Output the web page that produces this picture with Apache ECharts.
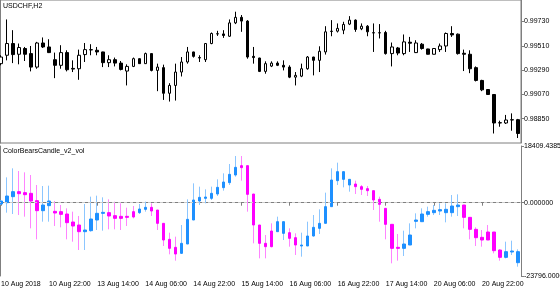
<!DOCTYPE html>
<html><head><meta charset="utf-8">
<script src="https://cdn.jsdelivr.net/npm/echarts@6/dist/echarts.min.js"></script>
<style>html,body{margin:0;padding:0;background:#fff}#c{width:560px;height:294px}</style>
</head><body><div id="c"></div>
<script>
// Price bars [open, close, low, high] (USDCHF H2)
const priceBars = [
[0.99348,0.99408,0.99333,0.99424],[0.99424,0.99530,0.99378,0.99748],[0.99530,0.99430,0.99353,0.99651],[0.99433,0.99494,0.99342,0.99530],
[0.99485,0.99433,0.99372,0.99499],[0.99439,0.99317,0.99278,0.99508],[0.99317,0.99535,0.99302,0.99545],[0.99535,0.99499,0.99490,0.99585],
[0.99499,0.99448,0.99444,0.99569],[0.99384,0.99333,0.99217,0.99448],[0.99333,0.99448,0.99302,0.99515],[0.99448,0.99293,0.99278,0.99469],
[0.99305,0.99299,0.99272,0.99378],[0.99302,0.99424,0.99202,0.99475],[0.99430,0.99475,0.99363,0.99535],[0.99472,0.99475,0.99424,0.99524],
[0.99469,0.99454,0.99424,0.99499],[0.99454,0.99357,0.99317,0.99456],[0.99357,0.99384,0.99317,0.99424],[0.99384,0.99353,0.99323,0.99403],
[0.99353,0.99296,0.99287,0.99372],[0.99281,0.99323,0.99151,0.99342],[0.99323,0.99393,0.99317,0.99403],[0.99393,0.99348,0.99346,0.99396],
[0.99348,0.99439,0.99346,0.99448],[0.99439,0.99287,0.99278,0.99441],[0.99287,0.99317,0.99099,0.99348],[0.99312,0.99080,0.99020,0.99339],
[0.99080,0.99151,0.99005,0.99171],[0.99151,0.99272,0.99014,0.99348],[0.99272,0.99363,0.99232,0.99408],[0.99363,0.99454,0.99348,0.99499],
[0.99454,0.99414,0.99403,0.99456],[0.99403,0.99399,0.99363,0.99424],[0.99384,0.99530,0.99363,0.99535],[0.99530,0.99621,0.99524,0.99630],
[0.99617,0.99619,0.99599,0.99645],[0.99617,0.99603,0.99581,0.99651],[0.99596,0.99717,0.99590,0.99748],[0.99717,0.99767,0.99706,0.99818],
[0.99767,0.99733,0.99636,0.99788],[0.99733,0.99408,0.99393,0.99742],[0.99414,0.99403,0.99348,0.99499],[0.99399,0.99278,0.99272,0.99401],
[0.99278,0.99348,0.99257,0.99369],[0.99326,0.99353,0.99317,0.99369],[0.99353,0.99333,0.99326,0.99369],[0.99333,0.99317,0.99287,0.99378],
[0.99317,0.99226,0.99217,0.99333],[0.99226,0.99242,0.99151,0.99272],[0.99235,0.99302,0.99226,0.99348],[0.99302,0.99408,0.99293,0.99417],
[0.99408,0.99378,0.99242,0.99410],[0.99378,0.99460,0.99272,0.99505],[0.99454,0.99636,0.99430,0.99687],[0.99639,0.99642,0.99596,0.99742],
[0.99642,0.99667,0.99630,0.99712],[0.99651,0.99703,0.99615,0.99727],[0.99706,0.99742,0.99697,0.99778],[0.99742,0.99657,0.99636,0.99748],
[0.99663,0.99687,0.99651,0.99712],[0.99687,0.99636,0.99596,0.99697],[0.99628,0.99626,0.99454,0.99712],[0.99626,0.99628,0.99576,0.99706],
[0.99630,0.99439,0.99430,0.99645],[0.99439,0.99499,0.99323,0.99539],[0.99490,0.99444,0.99424,0.99499],[0.99439,0.99545,0.99424,0.99612],
[0.99542,0.99533,0.99454,0.99590],[0.99448,0.99535,0.99444,0.99560],[0.99524,0.99485,0.99475,0.99535],[0.99481,0.99433,0.99431,0.99483],
[0.99433,0.99485,0.99431,0.99487],[0.99475,0.99508,0.99454,0.99530],[0.99508,0.99621,0.99454,0.99630],[0.99621,0.99608,0.99590,0.99687],
[0.99615,0.99439,0.99430,0.99621],[0.99442,0.99433,0.99281,0.99475],[0.99433,0.99302,0.99262,0.99469],[0.99312,0.99196,0.99187,0.99323],
[0.99196,0.99111,0.99099,0.99202],[0.99114,0.99069,0.99067,0.99116],[0.99069,0.98811,0.98716,0.99071],[0.98811,0.98814,0.98777,0.98832],
[0.98811,0.98838,0.98802,0.98884],[0.98838,0.98841,0.98741,0.98898],[0.98841,0.98716,0.98675,0.98848]
];
// Indicator bars [open, close, low, high] (ColorBearsCandle_v2_vol)
const indBars = [
[-422,552,-747,877],[11,2175,-3236,8236],[1959,3582,-3669,11158],[3582,2933,-3994,10293],[3258,2608,-4535,9860],
[3041,552,-8323,8994],[660,-2587,-11894,5747],[-2587,-747,-6158,5422],[-963,552,-6158,5531],[-2803,-3344,-7565,552],
[-2911,-3777,-7998,-747],[-3669,-6483,-11894,-1829],[-6267,-7565,-12652,-2911],[-7241,-9405,-15358,-4318],[-9405,-8864,-15358,-422],
[-9080,-5292,-9405,1959],[-5617,-3453,-8864,2284],[-3453,-3128,-9080,1743],[-3236,-4318,-8648,1093],[-4210,-5076,-8648,336],
[-4427,-5076,-8864,-206],[-4427,-4751,-7565,-1613],[-2911,-4643,-5076,-1071],[-3236,-2046,-3669,-422],[-2154,-1504,-2911,336],
[-1504,-2695,-4318,-206],[-2370,-6699,-8864,-2370],[-6699,-12111,-14059,-6699],[-11894,-14817,-16765,-9730],[-14492,-16657,-18821,-11029],
[-16440,-13193,-16657,-7241],[-13410,-5401,-13410,1093],[-5617,877,-5617,6288],[552,1743,-747,5206],[1418,1851,-206,4340],
[1418,3041,877,5206],[2825,4989,2175,7587],[4881,6721,3907,9535],[6505,9210,5747,12565],[8994,11483,8453,15163],
[12024,11375,7154,15163],[12024,2717,-2911,12024],[2825,-7241,-13193,2825],[-7241,-13193,-18064,-7241],[-13193,-14276,-18064,-10488],
[-9189,-14276,-14492,-6699],[-9405,-6158,-9405,-4535],[-9946,-6158,-12111,-6158],[-9730,-11570,-14276,-8323],[-11353,-13734,-16981,-9946],
[-14059,-13734,-17522,-9730],[-14059,-10812,-14059,-6158],[-10812,-7998,-11029,-3994],[-8323,-6699,-10163,-2154],[-6699,-1288,-6699,3258],
[-1288,7370,-1288,11158],[7154,10076,5747,12998],[7587,10076,4989,10076],[5747,7587,3582,7587],[6072,5206,2825,7154],
[5206,4340,2500,5747],[4557,3907,2175,5422],[3907,877,-2370,3907],[1093,-530,-6158,1959],[-1829,-7024,-11894,-1829],
[-7024,-14817,-19687,-7024],[-14492,-14817,-18821,-10163],[-14817,-13410,-17306,-9080],[-13734,-10488,-13734,-6699],[-6050,-5617,-8323,-3453],
[-6158,-3669,-6158,-1829],[-3777,-2911,-4535,-1288],[-3236,-2478,-3994,-747],[-2695,-2262,-3994,-206],[-3236,-2154,-6375,-206],
[-3236,-1071,-4535,2500],[-1288,-747,-4318,2717],[-747,-4751,-8323,-747],[-4751,-8648,-11894,-4751],[-8648,-11353,-14059,-7998],
[-11245,-12111,-14276,-8864],[-9513,-12111,-12111,-7241],[-9513,-15574,-16440,-9513],[-15358,-17739,-18821,-15141],[-17739,-15899,-18064,-12652],
[-16007,-15683,-16981,-12327],[-19471,-15899,-20769,-15141]
];
const timeTickLabels = ['10 Aug 2018','10 Aug 22:00','13 Aug 14:00','14 Aug 06:00','14 Aug 22:00','15 Aug 14:00','16 Aug 06:00','16 Aug 22:00','17 Aug 14:00','20 Aug 06:00','20 Aug 22:00'];
const priceAxisMin = 0.98630, priceAxisMax = 0.99924, priceTickStep = 0.0022;
const indTickValues = [-23796, 0, 18409.4385];
const indTickLabels = ['-23796.0000', '0.000000', '18409.4385'];
const titleMain = 'USDCHF,H2';
const titleSub = 'ColorBearsCandle_v2_vol';

// H2 bar times, trading days only
const months = ['Jan','Feb','Mar','Apr','May','Jun','Jul','Aug','Sep','Oct','Nov','Dec'];
const categories = [];
let t = Date.UTC(2018, 7, 10, 6);
while (categories.length < priceBars.length) {
  const d = new Date(t);
  const wd = d.getUTCDay();
  if (wd !== 0 && wd !== 6) {
    categories.push(d.getUTCDate() + ' ' + months[d.getUTCMonth()] + ' ' + String(d.getUTCHours()).padStart(2,'0') + ':00');
  }
  t += 2 * 3600 * 1000;
}

const FONT = 'Liberation Sans';
const AX = '#7f7f7f';
const chart = echarts.init(document.getElementById('c'), null, {renderer: 'canvas'});
const bodyInd = indBars.map(b => [b[0], b[1], Math.min(b[0], b[1]), Math.max(b[0], b[1])]);

chart.setOption({
  animation: false,
  backgroundColor: '#fff',
  textStyle: {fontFamily: FONT},
  title: [
    {text: titleMain, left: 3, top: 3, padding: 0, textStyle: {fontSize: 7, fontWeight: 'normal', color: '#000', fontFamily: FONT}},
    {text: titleSub, left: 3, top: 148, padding: 0, textStyle: {fontSize: 7, fontWeight: 'normal', color: '#000', fontFamily: FONT}}
  ],
  grid: [
    {left: -2, top: 0, width: 523, height: 143, show: true, borderColor: AX, borderWidth: 1, backgroundColor: '#fff', containLabel: false, outerBoundsMode: 'none'},
    {left: -2, top: 146, width: 523, height: 130, show: false, containLabel: false, outerBoundsMode: 'none'}
  ],
  xAxis: [
    {type: 'category', gridIndex: 0, data: categories, show: false, boundaryGap: true},
    {type: 'category', gridIndex: 1, data: categories, boundaryGap: true,
     axisLine: {show: true, lineStyle: {color: AX, width: 1}},
     axisTick: {show: true, alignWithLabel: true, interval: 7, length: 3, lineStyle: {color: AX}},
     axisLabel: {show: true, interval: 7, align: 'left', margin: 5, fontSize: 7, color: '#000', fontFamily: FONT,
       formatter: (v, i) => timeTickLabels[Math.round(i / 8)] || ''},
     splitLine: {show: false}}
  ],
  yAxis: [
    {type: 'value', gridIndex: 0, position: 'right', min: priceAxisMin, max: priceAxisMax, interval: priceTickStep,
     axisLine: {show: true, lineStyle: {color: AX}}, axisTick: {show: true, length: 3, lineStyle: {color: AX}},
     axisLabel: {show: true, showMinLabel: false, showMaxLabel: false, margin: 3, fontSize: 7, color: '#000', fontFamily: FONT,
       formatter: v => v.toFixed(5)},
     splitLine: {show: false}},
    {type: 'value', gridIndex: 1, position: 'right', min: indTickValues[0], max: indTickValues[2], interval: -indTickValues[0],
     axisLine: {show: true, lineStyle: {color: AX}}, axisTick: {show: true, length: 3, lineStyle: {color: AX}},
     axisLabel: {show: true, showMinLabel: true, showMaxLabel: true, margin: 3, fontSize: 7, color: '#000', fontFamily: FONT,
       formatter: v => {
         let best = 0;
         indTickValues.forEach((tv, k) => { if (Math.abs(tv - v) < Math.abs(indTickValues[best] - v)) best = k; });
         return indTickLabels[best];
       }},
     splitLine: {show: false}},
    {type: 'value', gridIndex: 0, position: 'left', offset: -2, min: priceAxisMin, max: priceAxisMax,
     axisLine: {show: true, lineStyle: {color: AX}}, axisTick: {show: false}, axisLabel: {show: false}, splitLine: {show: false}},
    {type: 'value', gridIndex: 1, position: 'left', offset: -2, min: indTickValues[0], max: indTickValues[2],
     axisLine: {show: true, lineStyle: {color: AX}}, axisTick: {show: false}, axisLabel: {show: false}, splitLine: {show: false}}
  ],
  series: [
    {type: 'candlestick', name: 'USDCHF', xAxisIndex: 0, yAxisIndex: 0, data: priceBars, barWidth: 3,
     itemStyle: {color: '#ffffff', color0: '#000000', borderColor: '#000000', borderColor0: '#000000', borderColorDoji: '#000000', borderWidth: 1}},
    {type: 'candlestick', name: 'wicks', xAxisIndex: 1, yAxisIndex: 1, data: indBars, barWidth: 1,
     itemStyle: {color: '#8cc6ff', color0: '#ff84ff', borderColor: '#8cc6ff', borderColor0: '#ff84ff', borderWidth: 1}},
    {type: 'candlestick', name: 'bodies', xAxisIndex: 1, yAxisIndex: 1, data: bodyInd, barWidth: 3,
     itemStyle: {color: '#1e90ff', color0: '#ff00ff', borderColor: '#1e90ff', borderColor0: '#ff00ff', borderWidth: 1},
     markLine: {silent: true, symbol: ['none', 'none'], label: {show: false},
       lineStyle: {color: '#cccccc', type: [3, 3], width: 1, opacity: 1}, data: [{yAxis: 0}]}}
  ]
});
</script></body></html>
